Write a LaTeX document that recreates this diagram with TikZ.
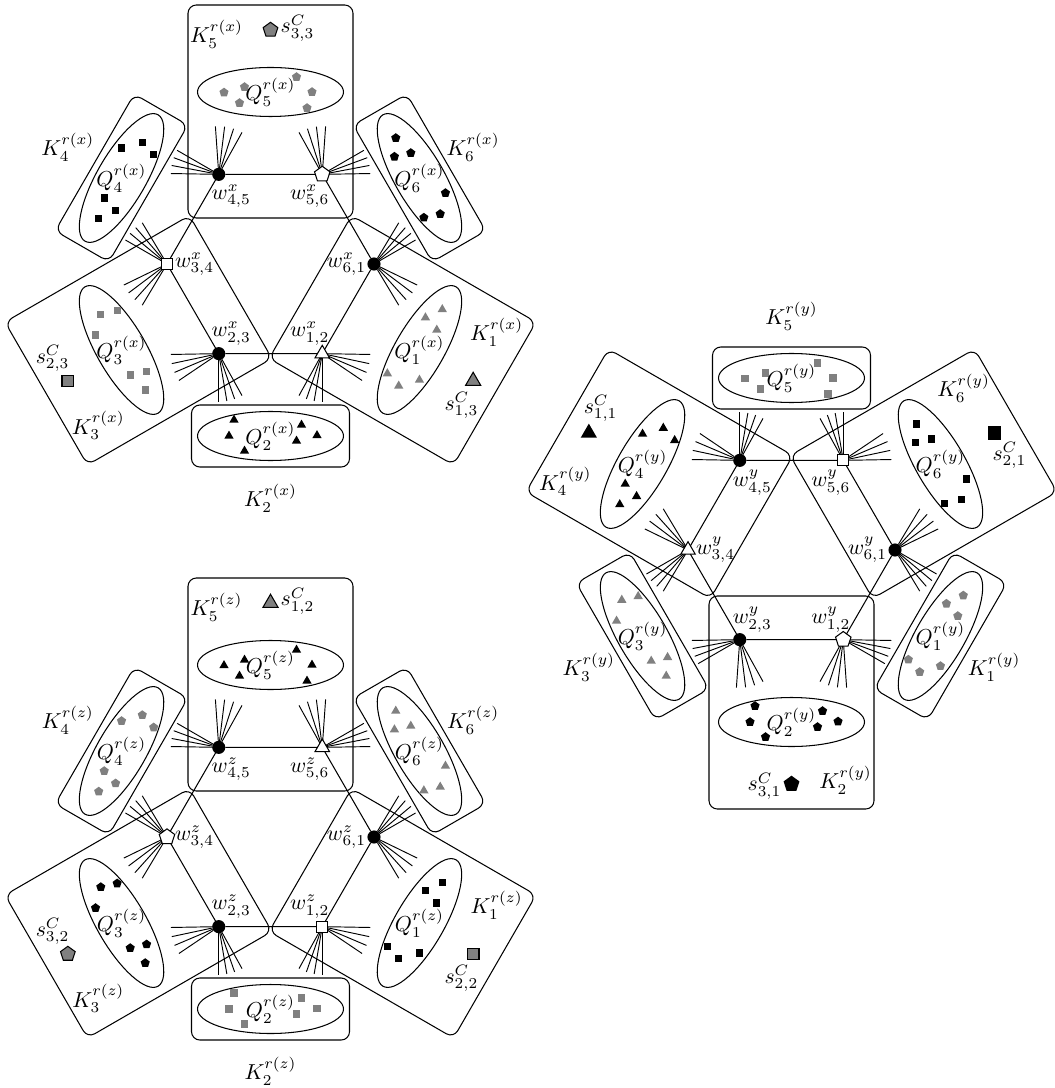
\documentclass[tikz,border=0pt]{standalone}
\usetikzlibrary{shapes.geometric}
\definecolor{mgray}{RGB}{128,128,128}
\tikzset{
  kbox/.style={draw,line width=0.5pt,rounded corners=4pt},
  qell/.style={draw,line width=0.5pt},
  hedge/.style={draw,line width=0.5pt},
  fanline/.style={draw,line width=0.45pt},
  lab/.style={inner sep=0pt,outer sep=0pt,scale=1.04},
  mk/.style={inner sep=0pt,outer sep=0pt},
  gsq/.style={mk,rectangle,fill=mgray,minimum size=3.4pt},
  bsq/.style={mk,rectangle,fill=black,minimum size=3.4pt},
  gpe/.style={mk,regular polygon,regular polygon sides=5,fill=mgray,minimum size=4.6pt},
  bpe/.style={mk,regular polygon,regular polygon sides=5,fill=black,minimum size=4.6pt},
  gtr/.style={mk,regular polygon,regular polygon sides=3,fill=mgray,minimum size=5.2pt},
  btr/.style={mk,regular polygon,regular polygon sides=3,fill=black,minimum size=5.2pt},
  ssq/.style={mk,rectangle,draw,line width=0.5pt,fill=mgray,minimum size=5.6pt},
  spe/.style={mk,regular polygon,regular polygon sides=5,draw,line width=0.5pt,fill=mgray,minimum size=7.4pt},
  str/.style={mk,regular polygon,regular polygon sides=3,draw,line width=0.5pt,fill=mgray,minimum size=8.4pt},
  sbsq/.style={mk,rectangle,fill=black,minimum size=6.4pt},
  sbpe/.style={mk,regular polygon,regular polygon sides=5,fill=black,minimum size=8pt},
  sbtr/.style={mk,regular polygon,regular polygon sides=3,fill=black,minimum size=9pt},
  vc/.style={mk,circle,fill=black,minimum size=6.3pt},
  vsq/.style={mk,rectangle,draw,line width=0.5pt,fill=white,minimum size=5.2pt},
  vpe/.style={mk,regular polygon,regular polygon sides=5,draw,line width=0.5pt,fill=white,minimum size=7.8pt},
  vtr/.style={mk,regular polygon,regular polygon sides=3,draw,line width=0.5pt,fill=white,minimum size=8pt},
}
\newcommand{\drawgadget}[5]{%
\begin{scope}[shift={#2}]
 \foreach \bang/\isbig/\Q/\mks/\sst/\stxt in {#3}{%
  \begin{scope}[rotate=\bang-90]
   \ifnum\isbig=1
    \draw[kbox] (-82.5,46) rectangle (82.5,259);
    \node[\sst] (#1s\Q) at (0,234) {};
    \node[lab] (#1sl\Q) at (27,236) {$s^C_{\stxt}$};
    \node[lab] (#1K\Q) at (-54,230) {$K_{\Q}^{r(#1)}$};
   \else
    \draw[kbox] (-79,141) rectangle (79,203);
    \node[lab] (#1K\Q) at (0,234) {$K_{\Q}^{r(#1)}$};
   \fi
   \draw[qell] (0,172) ellipse [x radius=73,y radius=24.5];
   \foreach \pp/\qq [count=\i] in {-46.5/0,-26/5.5,-31/-10.5,26/15.5,41.5/0.5,36.5/-15.5}
     \node[\mks] (#1q\Q-\i) at (\pp,171.5+\qq) {};
   \node[lab] (#1Q\Q) at (0,172) {$Q_{\Q}^{r(#1)}$};
  \end{scope}
 }
 \foreach \ph/\vst in {#4}
   \node[\vst] (#1w\ph) at (\ph:103.5) {};
 \draw[hedge] (#1w0)--(#1w60)--(#1w120)--(#1w180)--(#1w240)--(#1w300)--(#1w0);
 \foreach \ph/\sg in {#5}
   \foreach \fa in {-59,-48,-37,-26,30,39.7,49.3,59}
     \draw[fanline] (#1w\ph) -- ++({\ph+\sg*\fa}:48);
 \foreach \ph/\idx/\dx/\dy/\anc in {0/{6,1}/-8/0/east,60/{5,6}/-12.5/-22/center,120/{4,5}/12.5/-22/center,180/{3,4}/8/0/west,240/{2,3}/12.5/20/center,300/{1,2}/-12.5/20/center}
   \node[lab,anchor=\anc] (#1wl\ph) at ([shift={(\dx,\dy)}]#1w\ph) {$w^{#1}_{\idx}$};
\end{scope}}
\begin{document}
\begin{tikzpicture}[x=0.48pt,y=0.48pt]
\useasboundingbox (0,0) rectangle (1054,-1088);
\drawgadget{x}{(270.5,-264)}{90/1/5/gpe/spe/{3,3},150/0/4/bsq/x/x,210/1/3/gsq/ssq/{2,3},270/0/2/btr/x/x,330/1/1/gtr/str/{1,3},30/0/6/bpe/x/x}{0/vc,60/vpe,120/vc,180/vsq,240/vc,300/vtr}{0/1,60/-1,120/1,180/-1,240/1,300/-1}
\drawgadget{z}{(270.5,-837)}{90/1/5/btr/str/{1,2},150/0/4/gpe/x/x,210/1/3/bpe/spe/{3,2},270/0/2/gsq/x/x,330/1/1/bsq/ssq/{2,2},30/0/6/gtr/x/x}{0/vc,60/vtr,120/vc,180/vpe,240/vc,300/vsq}{0/1,60/-1,120/1,180/-1,240/1,300/-1}
\drawgadget{y}{(791.5,-550)}{90/0/5/gsq/x/x,150/1/4/btr/sbtr/{1,1},210/0/3/gtr/x/x,270/1/2/bpe/sbpe/{3,1},330/0/1/gpe/x/x,30/1/6/bsq/sbsq/{2,1}}{0/vc,60/vsq,120/vc,180/vtr,240/vc,300/vpe}{0/-1,60/1,120/-1,180/1,240/-1,300/1}
\end{tikzpicture}
\end{document}
